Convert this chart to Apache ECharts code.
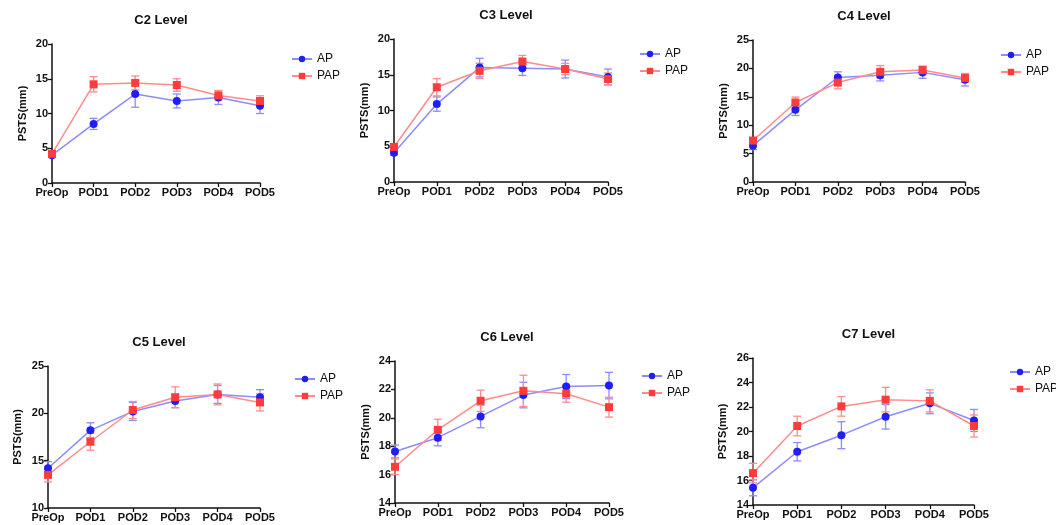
<!DOCTYPE html>
<html>
<head>
<meta charset="utf-8">
<script src="https://cdn.jsdelivr.net/npm/echarts@6/dist/echarts.min.js"></script>
<style>
  html, body { margin: 0; padding: 0; background: #fff; }
  #main { width: 1056px; height: 525px; }
</style>
</head>
<body>
<div id="main"></div>
<script>
// categories
var days = ['PreOp', 'POD1', 'POD2', 'POD3', 'POD4', 'POD5'];

// panel titles
var levels = ['C2 Level', 'C3 Level', 'C4 Level', 'C5 Level', 'C6 Level', 'C7 Level'];

// means and error (+/-)
var c2Ap = [4.0, 8.5, 12.8, 11.8, 12.3, 11.1];
var c2ApErr = [0.3, 0.8, 1.9, 1.0, 1.0, 1.1];
var c2Pap = [4.2, 14.2, 14.4, 14.1, 12.6, 11.8];
var c2PapErr = [0.3, 1.1, 1.0, 0.9, 0.7, 0.75];

var c3Ap = [4.1, 10.9, 16.0, 15.9, 15.8, 14.7];
var c3ApErr = [0.3, 1.0, 1.3, 1.0, 1.25, 1.1];
var c3Pap = [4.9, 13.25, 15.55, 16.85, 15.8, 14.4];
var c3PapErr = [0.3, 1.2, 1.05, 0.85, 0.8, 0.85];

var c4Ap = [6.4, 12.7, 18.4, 18.8, 19.3, 18.0];
var c4ApErr = [0.7, 1.0, 1.0, 1.0, 1.05, 1.1];
var c4Pap = [7.3, 14.0, 17.5, 19.4, 19.7, 18.3];
var c4PapErr = [0.4, 0.95, 1.1, 1.1, 0.7, 0.75];

var c5Ap = [14.2, 18.2, 20.2, 21.3, 22.0, 21.7];
var c5ApErr = [0.7, 0.8, 0.95, 0.7, 0.95, 0.8];
var c5Pap = [13.5, 17.0, 20.35, 21.7, 22.0, 21.15];
var c5PapErr = [0.75, 0.9, 0.9, 1.1, 1.1, 0.9];

var c6Ap = [17.63, 18.6, 20.1, 21.6, 22.2, 22.27];
var c6ApErr = [0.45, 0.57, 0.8, 0.9, 0.85, 0.93];
var c6Pap = [16.55, 19.15, 21.2, 21.9, 21.7, 20.75];
var c6PapErr = [0.55, 0.75, 0.75, 1.1, 0.6, 0.7];

var c7Ap = [15.4, 18.35, 19.7, 21.2, 22.3, 20.9];
var c7ApErr = [0.65, 0.75, 1.1, 1.0, 0.85, 0.9];
var c7Pap = [16.6, 20.45, 22.05, 22.6, 22.5, 20.45];
var c7PapErr = [0.8, 0.8, 0.8, 1.0, 0.9, 0.9];

// y axis ranges
var yMin = [0, 0, 0, 10, 14, 14];
var yMax = [20, 20, 25, 25, 24, 26];
var yStep = [5, 5, 5, 5, 2, 2];

var apMeans = [c2Ap, c3Ap, c4Ap, c5Ap, c6Ap, c7Ap];
var apErrs = [c2ApErr, c3ApErr, c4ApErr, c5ApErr, c6ApErr, c7ApErr];
var papMeans = [c2Pap, c3Pap, c4Pap, c5Pap, c6Pap, c7Pap];
var papErrs = [c2PapErr, c3PapErr, c4PapErr, c5PapErr, c6PapErr, c7PapErr];

// layout of each panel (plot box in px)
var boxes = [
    { left: 52, top: 44, width: 208, height: 139, legX: 286, legY: 48, gap: 24 },
    { left: 394, top: 39, width: 214, height: 143, legX: 634, legY: 43, gap: 24 },
    { left: 753, top: 40, width: 212, height: 142, legX: 995, legY: 44, gap: 24 },
    { left: 48, top: 366, width: 212, height: 142, legX: 289, legY: 368, gap: 25 },
    { left: 395, top: 361, width: 214, height: 142, legX: 636, legY: 365, gap: 24 },
    { left: 753, top: 358, width: 221, height: 147, legX: 1004, legY: 361, gap: 25 }
];

var AP_DOT = '#1f1ff5';
var AP_LINE = '#8c8cff';
var PAP_DOT = '#ff3b3b';
var PAP_LINE = '#ff8c8c';

var fontFam = 'Liberation Sans, Arial, sans-serif';

function errBars(means, errs) {
    return means.map(function (m, i) { return [i, m - errs[i], m + errs[i]]; });
}

function renderErr(params, api) {
    var x = api.value(0);
    var lo = api.coord([x, api.value(1)]);
    var hi = api.coord([x, api.value(2)]);
    var half = 4;
    var style = { stroke: params.seriesName.indexOf('AP') === 0 ? AP_LINE : PAP_LINE, lineWidth: 1.3 };
    return {
        type: 'group',
        children: [
            { type: 'line', shape: { x1: hi[0], y1: hi[1], x2: lo[0], y2: lo[1] }, style: style },
            { type: 'line', shape: { x1: hi[0] - half, y1: hi[1], x2: hi[0] + half, y2: hi[1] }, style: style },
            { type: 'line', shape: { x1: lo[0] - half, y1: lo[1], x2: lo[0] + half, y2: lo[1] }, style: style }
        ]
    };
}

var option = {
    backgroundColor: '#fff',
    animation: false,
    title: [], legend: [], grid: [], xAxis: [], yAxis: [], series: []
};

boxes.forEach(function (b, k) {
    option.title.push({
        text: levels[k],
        left: b.left + b.width / 2, top: b.top - 35, textAlign: 'center',
        textStyle: { fontFamily: fontFam, fontWeight: 'bold', fontSize: 13, color: '#111' }
    });
    option.legend.push({
        data: ['AP', 'PAP'], orient: 'vertical', left: b.legX, top: b.legY,
        itemWidth: 20, itemHeight: 8, itemGap: 5, selectedMode: false,
        textStyle: { fontFamily: fontFam, fontSize: 12, color: '#111' }
    });
    option.grid.push({ left: b.left, top: b.top, width: b.width, height: b.height });
    option.xAxis.push({
        type: 'category', gridIndex: k, data: days, boundaryGap: false,
        axisLine: { lineStyle: { color: '#111', width: 1.5 } },
        axisTick: { length: 4, lineStyle: { color: '#111', width: 1.3 } },
        axisLabel: { fontFamily: fontFam, fontWeight: 'bold', fontSize: 11, color: '#111', margin: 4, interval: 0 }
    });
    option.yAxis.push({
        type: 'value', gridIndex: k, min: yMin[k], max: yMax[k], interval: yStep[k],
        name: 'PSTS(mm)', nameLocation: 'middle', nameGap: b.gap,
        nameTextStyle: { fontFamily: fontFam, fontWeight: 'bold', fontSize: 11, color: '#111' },
        axisLine: { show: true, lineStyle: { color: '#111', width: 1.5 } },
        axisTick: { show: true, length: 4, lineStyle: { color: '#111', width: 1.3 } },
        axisLabel: { fontFamily: fontFam, fontWeight: 'bold', fontSize: 11, color: '#111', margin: 4 },
        splitLine: { show: false }
    });
    option.series.push({
        name: 'AP', type: 'line', xAxisIndex: k, yAxisIndex: k, data: apMeans[k],
        symbol: 'circle', symbolSize: 8, z: 4,
        itemStyle: { color: AP_DOT }, lineStyle: { color: AP_LINE, width: 1.5 }
    });
    option.series.push({
        name: 'PAP', type: 'line', xAxisIndex: k, yAxisIndex: k, data: papMeans[k],
        symbol: 'rect', symbolSize: 8, z: 4,
        itemStyle: { color: PAP_DOT }, lineStyle: { color: PAP_LINE, width: 1.5 }
    });
    option.series.push({
        name: 'AP err', type: 'custom', xAxisIndex: k, yAxisIndex: k, z: 3,
        data: errBars(apMeans[k], apErrs[k]), renderItem: renderErr
    });
    option.series.push({
        name: 'PAP err', type: 'custom', xAxisIndex: k, yAxisIndex: k, z: 3,
        data: errBars(papMeans[k], papErrs[k]), renderItem: renderErr
    });
});

var chart = echarts.init(document.getElementById('main'));
chart.setOption(option);
</script>
</body>
</html>
